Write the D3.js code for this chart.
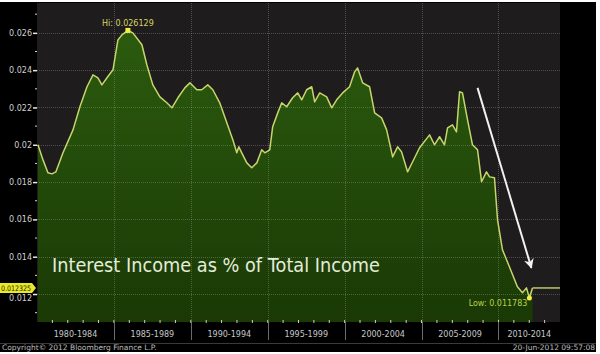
<!DOCTYPE html>
<html>
<head>
<meta charset="utf-8">
<script src="https://cdn.jsdelivr.net/npm/d3@7"></script>
<style>
  body { margin: 0; background: #fff; }
  svg { display: block; }
</style>
</head>
<body>
<script>
// values (year, ratio)
const years = [
  1980.06, 1980.39, 1980.71, 1980.97, 1981.23, 1981.69, 1982.34, 1982.79, 1983.25, 1983.64,
  1983.96, 1984.22, 1984.55, 1984.94, 1985.26, 1985.52, 1985.91, 1986.23, 1986.82, 1987.14,
  1987.53, 1987.99, 1988.44, 1988.77, 1989.16, 1989.61, 1989.94, 1990.39, 1990.71, 1991.10,
  1991.43, 1991.88, 1992.34, 1992.73, 1992.99, 1993.12, 1993.31, 1993.64, 1993.96, 1994.29,
  1994.61, 1994.81, 1995.13, 1995.32, 1995.65, 1995.91, 1996.23, 1996.62, 1996.95, 1997.21,
  1997.53, 1997.86, 1998.05, 1998.38, 1998.83, 1999.16, 1999.48, 1999.87, 2000.32, 2000.65,
  2000.84, 2001.17, 2001.62, 2001.95, 2002.40, 2002.73, 2003.12, 2003.44, 2003.70, 2004.09,
  2004.42, 2004.87, 2005.52, 2005.84, 2006.17, 2006.49, 2006.69, 2007.01, 2007.27, 2007.47,
  2007.66, 2007.99, 2008.31, 2008.64, 2008.90, 2009.22, 2009.42, 2009.74, 2009.94, 2010.26,
  2010.71, 2011.23, 2011.56, 2011.82, 2012.01, 2012.21
]
const values = [
  0.02000, 0.01919, 0.01850, 0.01844, 0.01855, 0.01957, 0.02080, 0.02204, 0.02311, 0.02375,
  0.02359, 0.02321, 0.02359, 0.02402, 0.02562, 0.02589, 0.026129, 0.02600, 0.02536, 0.02429,
  0.02321, 0.02257, 0.02225, 0.02198, 0.02252, 0.02305, 0.02332, 0.02295, 0.02295, 0.02321,
  0.02295, 0.02225, 0.02118, 0.02027, 0.01957, 0.01989, 0.01957, 0.01903, 0.01877, 0.01903,
  0.01973, 0.01957, 0.01973, 0.02096, 0.02171, 0.02225, 0.02204, 0.02252, 0.02278, 0.02241,
  0.02295, 0.02311, 0.02230, 0.02278, 0.02257, 0.02198, 0.02241, 0.02278, 0.02311, 0.02391,
  0.02412, 0.02332, 0.02311, 0.02171, 0.02144, 0.02080, 0.01935, 0.01989, 0.01962, 0.01855,
  0.01909, 0.01984, 0.02053, 0.02000, 0.02043, 0.02000, 0.02091, 0.02107, 0.02069, 0.02284,
  0.02278, 0.02134, 0.02000, 0.01973, 0.01802, 0.01855, 0.01828, 0.01823, 0.01598, 0.01437,
  0.01346, 0.01239, 0.01207, 0.01233, 0.011783, 0.012325
]
const yTicks = [0.012, 0.014, 0.016, 0.018, 0.02, 0.022, 0.024, 0.026]
const yMinorTicks = [0.011, 0.013, 0.015, 0.017, 0.019, 0.021, 0.023, 0.025, 0.027]
const periodStarts = [1980, 1985, 1990, 1995, 2000, 2005, 2010]
const periodLabels = ['1980-1984', '1985-1989', '1990-1994', '1995-1999', '2000-2004', '2005-2009', '2010-2014']
const hiLabel = 'Hi: 0.026129'
const lowLabel = 'Low: 0.011783'
const lastLabel = '0.012325'
const title = 'Interest Income as % of Total Income'
const copyright = 'Copyright\u00a9 2012 Bloomberg Finance L.P.'
const stamp = '20-Jun-2012 09:57:08'
// trend arrow, start and end as (year, value)
const arrowFrom = [2008.64, 0.02305]
const arrowTo = [2012.14, 0.01340]

const W = 600
const H = 354
const plot = { left: 37, right: 560, top: 3, bottom: 322 }
const font = 'Tahoma, "DejaVu Sans", sans-serif'

const svg = d3.select('body').append('svg')
  .attr('width', W)
  .attr('height', H)

const x = d3.scaleLinear().domain([1980, 2014]).range([plot.left, plot.right])
const y = d3.scaleLinear().domain([0.0105, 0.0276]).range([plot.bottom, plot.top])

const data = years.map((yr, i) => ({ t: yr, v: values[i] }))

// frame
svg.append('rect')
  .attr('x', 0).attr('y', 2)
  .attr('width', 596).attr('height', 350)
  .attr('fill', '#000')

svg.append('rect')
  .attr('x', plot.left).attr('y', plot.top)
  .attr('width', plot.right - plot.left).attr('height', plot.bottom - plot.top)
  .attr('fill', '#1f1c1d')

const defs = svg.append('defs')
const grad = defs.append('linearGradient')
  .attr('id', 'fillGrad')
  .attr('gradientUnits', 'userSpaceOnUse')
  .attr('x1', 0).attr('y1', plot.top)
  .attr('x2', 0).attr('y2', plot.bottom)
grad.append('stop').attr('offset', '0%').attr('stop-color', '#2d5e0f')
grad.append('stop').attr('offset', '100%').attr('stop-color', '#1a3905')

defs.append('marker')
  .attr('id', 'head')
  .attr('viewBox', '0 0 10 10')
  .attr('refX', 9).attr('refY', 5)
  .attr('markerWidth', 5).attr('markerHeight', 5)
  .attr('orient', 'auto')
  .append('path')
  .attr('d', 'M0,0 L10,5 L0,10 L3,5 Z')
  .attr('fill', '#f2f2f2')

// area under the series
svg.append('path')
  .datum(data)
  .attr('fill', 'url(#fillGrad)')
  .attr('d', d3.area()
    .x(d => x(d.t))
    .y0(plot.bottom)
    .y1(d => y(d.v)))

// grid over the fill
const grid = svg.append('g')
  .attr('stroke', 'rgba(170,170,170,0.35)')
  .attr('stroke-dasharray', '1,1')
grid.selectAll('.hgrid')
  .data(yTicks)
  .enter().append('line')
  .attr('x1', plot.left).attr('x2', plot.right)
  .attr('y1', d => Math.round(y(d)) + 0.5)
  .attr('y2', d => Math.round(y(d)) + 0.5)
grid.selectAll('.vgrid')
  .data(periodStarts.slice(1))
  .enter().append('line')
  .attr('y1', plot.top).attr('y2', plot.bottom)
  .attr('x1', d => Math.round(x(d)) + 0.5)
  .attr('x2', d => Math.round(x(d)) + 0.5)

// series line, then the last value carried to the right edge
const last = data[data.length - 1]
svg.append('path')
  .datum(data)
  .attr('fill', 'none')
  .attr('stroke', '#c6d56c')
  .attr('stroke-width', 1.5)
  .attr('stroke-linejoin', 'round')
  .attr('d', d3.line().x(d => x(d.t)).y(d => y(d.v)))
svg.append('line')
  .attr('x1', x(last.t)).attr('x2', plot.right)
  .attr('y1', y(last.v)).attr('y2', y(last.v))
  .attr('stroke', '#c6d56c')
  .attr('stroke-width', 1.4)

// hi / low markers
const hi = data.reduce((a, b) => (b.v > a.v ? b : a))
const low = data.reduce((a, b) => (b.v < a.v ? b : a))

svg.append('rect')
  .attr('x', x(hi.t) - 2.5).attr('y', y(hi.v) - 2.5)
  .attr('width', 5).attr('height', 5)
  .attr('fill', '#f0f040')
svg.append('text')
  .attr('x', x(hi.t)).attr('y', y(hi.v) - 4)
  .attr('text-anchor', 'middle')
  .attr('font-family', font).attr('font-size', 8)
  .attr('fill', '#d8d464')
  .text(hiLabel)

svg.append('circle')
  .attr('cx', x(low.t)).attr('cy', y(low.v))
  .attr('r', 2.5)
  .attr('fill', '#f0f040')
svg.append('text')
  .attr('x', x(low.t) - 2).attr('y', y(low.v) + 8)
  .attr('text-anchor', 'end')
  .attr('font-family', font).attr('font-size', 8)
  .attr('fill', '#b9cf4a')
  .text(lowLabel)

// trend arrow
svg.append('line')
  .attr('x1', x(arrowFrom[0])).attr('y1', y(arrowFrom[1]))
  .attr('x2', x(arrowTo[0])).attr('y2', y(arrowTo[1]))
  .attr('stroke', '#f2f2f2')
  .attr('stroke-width', 2)
  .attr('marker-end', 'url(#head)')

// title
svg.append('text')
  .attr('x', 52).attr('y', 272)
  .attr('font-family', font).attr('font-size', 19)
  .attr('fill', '#e4ecdc')
  .attr('textLength', 328)
  .attr('lengthAdjust', 'spacingAndGlyphs')
  .text(title)

// y axis
const yAxis = d3.axisLeft(y)
  .tickValues(yTicks)
  .tickSize(4)
  .tickPadding(1)
  .tickFormat(d => String(+d.toFixed(3)))
const yg = svg.append('g')
  .attr('transform', `translate(${plot.left}, 0)`)
  .call(yAxis)
yg.select('.domain').remove()
yg.selectAll('line').attr('stroke', '#e8e8e8').attr('stroke-width', 1.5)
yg.selectAll('text')
  .attr('font-family', font).attr('font-size', 8)
  .attr('fill', '#cfcfcf')
// the lowest label sits just under the last-value tag
yg.selectAll('.tick')
  .filter(d => d === yTicks[0])
  .select('text')
  .attr('dy', '0.8em')

svg.append('g').selectAll('line')
  .data(yMinorTicks.filter(d => y(d) > plot.top && y(d) < plot.bottom))
  .enter().append('line')
  .attr('x1', plot.left - 2).attr('x2', plot.left)
  .attr('y1', d => y(d)).attr('y2', d => y(d))
  .attr('stroke', '#d8d8d8')

// last value tag
const tagY = y(last.v)
svg.append('path')
  .attr('d', `M0,${tagY - 5} H${plot.left - 5} L${plot.left - 1},${tagY} L${plot.left - 5},${tagY + 5} H0 Z`)
  .attr('fill', '#e9e92a')
svg.append('text')
  .attr('x', 1).attr('y', tagY + 3)
  .attr('font-family', font).attr('font-size', 7.5)
  .attr('fill', '#202000')
  .attr('textLength', 30)
  .attr('lengthAdjust', 'spacingAndGlyphs')
  .text(lastLabel)

// x axis band
const xg = svg.append('g')
xg.selectAll('.yr')
  .data(d3.range(1981, 2014))
  .enter().append('line')
  .attr('x1', d => x(d)).attr('x2', d => x(d))
  .attr('y1', plot.bottom - 2).attr('y2', plot.bottom + 1)
  .attr('stroke', '#cfcfcf')
xg.selectAll('.sep')
  .data(periodStarts.slice(1))
  .enter().append('line')
  .attr('x1', d => Math.round(x(d)) + 0.5).attr('x2', d => Math.round(x(d)) + 0.5)
  .attr('y1', plot.bottom).attr('y2', plot.bottom + 18)
  .attr('stroke', '#6a6a6a')
xg.selectAll('.plabel')
  .data(periodStarts)
  .enter().append('text')
  .attr('x', d => (x(d) + Math.min(x(d + 5), plot.right)) / 2)
  .attr('y', plot.bottom + 15)
  .attr('text-anchor', 'middle')
  .attr('font-family', font).attr('font-size', 8)
  .attr('fill', '#c8c8c8')
  .text((d, i) => periodLabels[i])

svg.append('line')
  .attr('x1', 0).attr('x2', 596)
  .attr('y1', 343.5).attr('y2', 343.5)
  .attr('stroke', '#3a3a3a')

svg.append('text')
  .attr('x', 2).attr('y', 350)
  .attr('font-family', font).attr('font-size', 7.5)
  .attr('fill', '#bdbdbd')
  .text(copyright)
svg.append('text')
  .attr('x', 595).attr('y', 350)
  .attr('text-anchor', 'end')
  .attr('font-family', font).attr('font-size', 7.5)
  .attr('fill', '#bdbdbd')
  .text(stamp)
</script>
</body>
</html>
